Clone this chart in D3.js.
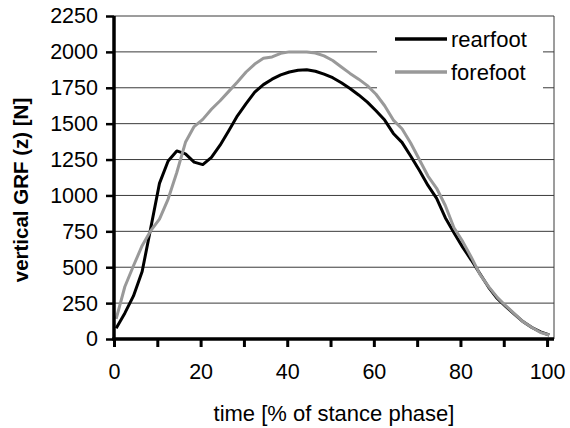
<!DOCTYPE html>
<html>
<head>
<meta charset="utf-8">
<script src="https://cdn.jsdelivr.net/npm/d3@7"></script>
<style>
  body { margin: 0; background: #fff; }
  svg { display: block; font-family: Arial, "Liberation Sans", sans-serif; }
</style>
</head>
<body>
<div id="chart"></div>
<script>
// % of stance phase
var times = [0.5, 2.5, 4.5, 6.5, 8.5, 10.5, 12.5, 14.5, 16.5, 18.5, 20.5, 22.5, 24.5, 26.5, 28.5, 30.5, 32.5,
    34.5, 36.5, 38.5, 40.5, 42.5, 44.5, 46.5, 48.5, 50.5, 52.5, 54.5, 56.5, 58.5, 60.5, 62.5, 64.5, 66.5,
    68.5, 70.5, 72.5, 74.5, 76.5, 78.5, 80.5, 82.5, 84.5, 86.5, 88.5, 90.5, 92.5, 94.5, 96.5, 98.5, 100.5];

var rearfoot = [75, 180, 300, 470, 775, 1084, 1240, 1310, 1290, 1232, 1215, 1265, 1350, 1450, 1555, 1640, 1720,
    1772, 1810, 1840, 1860, 1872, 1875, 1865, 1845, 1820, 1785, 1745, 1700, 1650, 1590, 1525, 1432, 1370,
    1275, 1175, 1070, 980, 845, 740, 640, 550, 455, 360, 282, 225, 172, 120, 80, 50, 28];

var forefoot = [140, 364, 510, 650, 755, 835, 975, 1160, 1370, 1480, 1530, 1600, 1660, 1725, 1790, 1860, 1915,
    1955, 1965, 1990, 2000, 2000, 2000, 1992, 1972, 1940, 1895, 1850, 1810, 1765, 1705, 1625, 1525, 1465,
    1365, 1250, 1135, 1050, 930, 775, 680, 570, 450, 365, 290, 230, 175, 120, 80, 45, 28];

var yTicks = [0, 250, 500, 750, 1000, 1250, 1500, 1750, 2000, 2250];
var xTicks = [0, 10, 20, 30, 40, 50, 60, 70, 80, 90, 100];
var xLabels = [0, 20, 40, 60, 80, 100];

var seriesNames = ["rearfoot", "forefoot"];
var seriesColors = ["#000000", "#999999"];

var w = 570, h = 428;
var margin = { top: 16, right: 16, bottom: 89, left: 114 };
var iw = w - margin.left - margin.right;
var ih = h - margin.top - margin.bottom;
var fontFam = "Arial, 'Liberation Sans', sans-serif";

var svg = d3.select("#chart").append("svg")
    .attr("width", w)
    .attr("height", h);

var g = svg.append("g")
    .attr("transform", "translate(" + margin.left + "," + margin.top + ")");

var x = d3.scaleLinear().domain([0, 101.6]).range([0, iw]);
var y = d3.scaleLinear().domain([0, 2250]).range([ih, 0]);

// gridlines
g.selectAll("line.grid")
    .data(yTicks.filter(function (d) { return d > 0; }))
    .enter()
    .append("line")
    .attr("class", "grid")
    .attr("x1", 0)
    .attr("x2", iw)
    .attr("y1", function (d) { return y(d); })
    .attr("y2", function (d) { return y(d); })
    .attr("stroke", "#3a3a3a")
    .attr("stroke-width", 1);

// right border
g.append("line")
    .attr("x1", iw).attr("x2", iw)
    .attr("y1", 0).attr("y2", ih)
    .attr("stroke", "#3a3a3a")
    .attr("stroke-width", 1);

// legend box (white, hides gridlines)
var legend = g.append("g").attr("transform", "translate(" + (377 - margin.left) + "," + (19 - margin.top) + ")");
legend.append("rect")
    .attr("width", 166)
    .attr("height", 70)
    .attr("fill", "#fff");

seriesNames.forEach(function (name, i) {
    var ly = 20 + i * 33;
    legend.append("line")
        .attr("x1", 18).attr("x2", 70)
        .attr("y1", ly).attr("y2", ly)
        .attr("stroke", seriesColors[i])
        .attr("stroke-width", 3.5);
    legend.append("text")
        .attr("x", 74)
        .attr("y", ly)
        .attr("dy", "0.35em")
        .attr("font-size", 22)
        .text(name);
});

// lines
var line = d3.line()
    .x(function (d) { return x(d[0]); })
    .y(function (d) { return y(d[1]); });

[rearfoot, forefoot].forEach(function (vals, i) {
    g.append("path")
        .datum(times.map(function (t, j) { return [t, vals[j]]; }))
        .attr("fill", "none")
        .attr("stroke", seriesColors[i])
        .attr("stroke-width", 3)
        .attr("stroke-linejoin", "round")
        .attr("d", line);
});

// y axis
var yAxis = d3.axisLeft(y)
    .tickValues(yTicks)
    .tickSize(8)
    .tickPadding(8)
    .tickFormat(d3.format("d"));
var yg = g.append("g").call(yAxis);
yg.select(".domain").remove();
yg.selectAll(".tick line").attr("stroke", "#000").attr("stroke-width", 2.5);
yg.selectAll(".tick text").attr("font-size", 21.5).attr("fill", "#000")
    .style("font-family", fontFam);
g.append("line")
    .attr("x1", 0).attr("x2", 0)
    .attr("y1", 0).attr("y2", ih)
    .attr("stroke", "#000")
    .attr("stroke-width", 3.5);

// x axis
var xAxis = d3.axisBottom(x)
    .tickValues(xTicks)
    .tickSize(8)
    .tickPadding(17)
    .tickFormat(function (d) { return xLabels.indexOf(d) >= 0 ? d : ""; });
var xg = g.append("g").attr("transform", "translate(0," + ih + ")").call(xAxis);
xg.select(".domain").remove();
xg.selectAll(".tick line").attr("stroke", "#000").attr("stroke-width", 3);
xg.selectAll(".tick text").attr("font-size", 21.5).attr("fill", "#000")
    .style("font-family", fontFam);
g.append("line")
    .attr("x1", -1.75).attr("x2", iw)
    .attr("y1", ih).attr("y2", ih)
    .attr("stroke", "#000")
    .attr("stroke-width", 3.5);

// axis titles
svg.append("text")
    .attr("x", margin.left + iw / 2)
    .attr("y", 421)
    .attr("text-anchor", "middle")
    .attr("font-size", 22)
    .text("time [% of stance phase]");

svg.append("text")
    .attr("transform", "translate(28,190) rotate(-90)")
    .attr("text-anchor", "middle")
    .attr("font-size", 20.5)
    .attr("font-weight", "bold")
    .text("vertical GRF (z) [N]");
</script>
</body>
</html>
